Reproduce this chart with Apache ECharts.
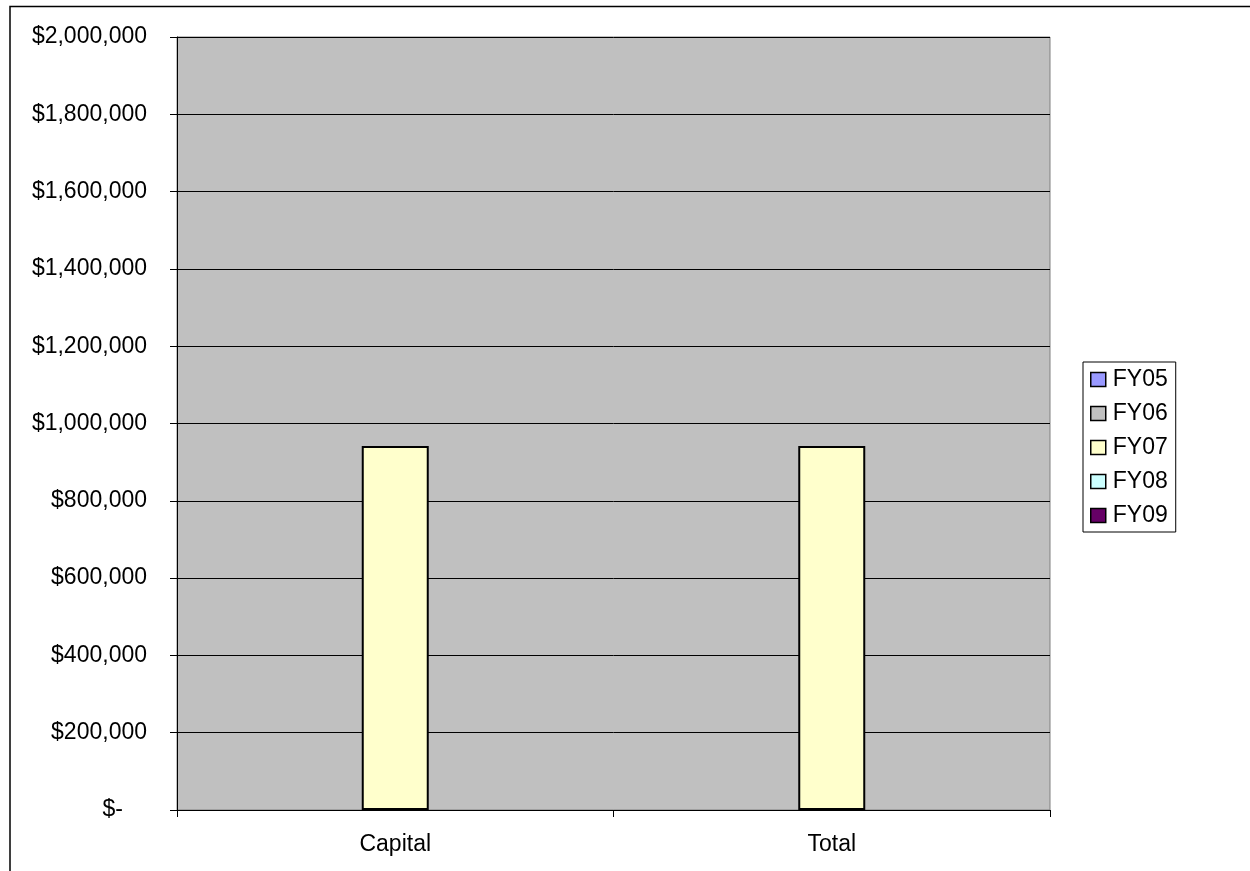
<!DOCTYPE html>
<html>
<head>
<meta charset="utf-8">
<title>Capital and Total by fiscal year</title>
<script src="https://cdn.jsdelivr.net/npm/echarts@6/dist/echarts.min.js"></script>
<style>
  html, body { margin: 0; padding: 0; background: #ffffff; }
  #chart { width: 1250px; height: 871px; }
</style>
</head>
<body>
<div id="chart"></div>
<script>
// Categories along the x axis
const categories = ['Capital', 'Total'];

// Fiscal year series names and their fill colours
const seriesNames = ['FY05', 'FY06', 'FY07', 'FY08', 'FY09'];
const seriesColors = ['#9999FF', '#C0C0C0', '#FFFFCC', '#CCFFFF', '#660066'];

// Values per fiscal year (Capital, Total)
const fy05 = [0, 0];
const fy06 = [0, 0];
const fy07 = [942000, 942000];
const fy08 = [0, 0];
const fy09 = [0, 0];
const seriesValues = [fy05, fy06, fy07, fy08, fy09];

// Value axis range
const yMin = 0;
const yMax = 2000000;
const yStep = 200000;

const FONT = '"Liberation Sans", Arial, sans-serif';

function money(v) {
  if (v === 0) return '{z|$-}';
  return '$' + v.toString().replace(/\B(?=(\d{3})+(?!\d))/g, ',');
}

const chart = echarts.init(document.getElementById('chart'), null, { renderer: 'canvas' });

const option = {
  backgroundColor: '#ffffff',
  animation: false,
  textStyle: { fontFamily: FONT, color: '#000' },
  graphic: [{
    type: 'rect',
    shape: { x: 10, y: 6.5, width: 1400, height: 1000 },
    style: { fill: 'none', stroke: '#000', lineWidth: 1.5 },
    silent: true,
    z: -10
  }],
  grid: {
    left: 177, top: 37, right: 200, bottom: 61,
    show: true,
    backgroundColor: '#C0C0C0',
    borderColor: '#808080',
    borderWidth: 1
  },
  legend: {
    orient: 'vertical',
    left: 1083,
    top: 362,
    padding: [6, 8, 5, 7],
    itemGap: 11,
    itemWidth: 15,
    itemHeight: 14,
    icon: 'rect',
    borderColor: '#000',
    borderWidth: 1,
    data: seriesNames,
    itemStyle: { borderColor: '#000', borderWidth: 1.5 },
    textStyle: { fontFamily: FONT, fontSize: 23, color: '#000', lineHeight: 23, padding: [0, 0, 0, 2] }
  },
  xAxis: {
    type: 'category',
    data: categories,
    boundaryGap: true,
    axisLine: { show: true, lineStyle: { color: '#000', width: 1 } },
    axisTick: { show: true, length: 7, lineStyle: { color: '#000' } },
    axisLabel: { fontFamily: FONT, fontSize: 23, color: '#000', margin: 23 },
    splitLine: { show: false }
  },
  yAxis: {
    type: 'value',
    min: yMin,
    max: yMax,
    interval: yStep,
    axisLine: { show: true, lineStyle: { color: '#000', width: 1 } },
    axisTick: { show: true, length: 7, lineStyle: { color: '#000' } },
    axisLabel: {
      fontFamily: FONT, fontSize: 23, color: '#000', margin: 30,
      formatter: money,
      rich: { z: { fontFamily: FONT, fontSize: 23, color: '#000', padding: [0, 24, 0, 0] } }
    },
    splitLine: { show: true, lineStyle: { color: '#000', width: 1 } }
  },
  series: seriesNames.map((name, i) => ({
    name: name,
    type: 'bar',
    data: seriesValues[i],
    barWidth: 67,
    barGap: '0%',
    itemStyle: {
      color: seriesColors[i],
      borderColor: '#000',
      borderWidth: seriesValues[i].some(v => v > 0) ? 2 : 0
    }
  }))
};

chart.setOption(option);
</script>
</body>
</html>
